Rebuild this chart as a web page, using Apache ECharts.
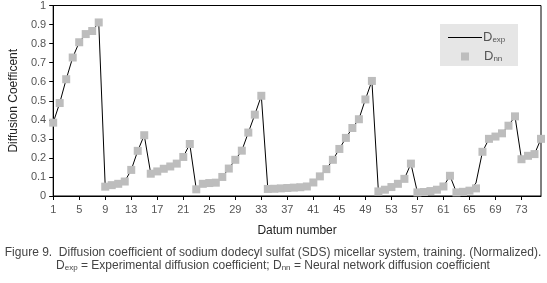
<!DOCTYPE html>
<html>
<head>
<meta charset="utf-8">
<script src="https://cdn.jsdelivr.net/npm/echarts@6/dist/echarts.min.js"></script>
<style>
  html, body { margin: 0; padding: 0; background: #fff; }
  #chart { width: 547px; height: 283px; }
</style>
</head>
<body>
<div id="chart"></div>
<script>
// datum numbers 1..76
const datums = [];
for (let i = 1; i <= 76; i++) datums.push(String(i));

// neural network output (grey squares)
const dnnValues = [
  0.385, 0.488, 0.613, 0.727, 0.807, 0.850, 0.866, 0.911, 0.049, 0.057,
  0.064, 0.076, 0.137, 0.237, 0.319, 0.117, 0.129, 0.143, 0.155, 0.170,
  0.205, 0.273, 0.035, 0.064, 0.068, 0.070, 0.100, 0.144, 0.190, 0.238,
  0.333, 0.427, 0.526, 0.037, 0.038, 0.040, 0.042, 0.044, 0.046, 0.050,
  0.071, 0.103, 0.141, 0.190, 0.247, 0.305, 0.357, 0.403, 0.507, 0.604,
  0.024, 0.033, 0.047, 0.064, 0.090, 0.170, 0.019, 0.021, 0.026, 0.033,
  0.050, 0.106, 0.019, 0.022, 0.028, 0.040, 0.232, 0.300, 0.312, 0.329,
  0.369, 0.418, 0.193, 0.211, 0.220, 0.300
];

// experimental values (black line)
const dexpValues = [
  0.385, 0.488, 0.613, 0.727, 0.807, 0.850, 0.866, 0.911, 0.049, 0.057,
  0.064, 0.076, 0.137, 0.237, 0.319, 0.117, 0.129, 0.143, 0.155, 0.170,
  0.205, 0.273, 0.035, 0.064, 0.068, 0.070, 0.100, 0.144, 0.190, 0.238,
  0.333, 0.427, 0.526, 0.037, 0.038, 0.040, 0.042, 0.044, 0.046, 0.050,
  0.071, 0.103, 0.141, 0.190, 0.247, 0.305, 0.357, 0.403, 0.507, 0.604,
  0.024, 0.033, 0.047, 0.064, 0.090, 0.170, 0.019, 0.021, 0.026, 0.033,
  0.050, 0.106, 0.019, 0.022, 0.028, 0.068, 0.232, 0.300, 0.312, 0.329,
  0.369, 0.418, 0.193, 0.211, 0.220, 0.300
];

const font = 'Liberation Sans, Arial, sans-serif';
const sub = {
  d: { fontSize: 13, fontFamily: font, color: '#555' },
  s: { fontSize: 8, fontFamily: font, color: '#555', padding: [5, 0, 0, 0] }
};

const myChart = echarts.init(document.getElementById('chart'));
myChart.setOption({
  animation: false,
  grid: {
    left: 49,
    right: 6,
    top: 5,
    bottom: 87,
    show: true,
    borderColor: '#000',
    borderWidth: 1
  },
  legend: [
    {
      data: [{ name: 'Dexp', icon: 'rect' }],
      left: 448,
      top: 31,
      itemWidth: 34,
      itemHeight: 1,
      padding: 0,
      z: 10,
      itemStyle: { color: '#000' },
      formatter: () => '{d|D}{s|exp}',
      textStyle: { rich: sub, padding: [0, 0, 0, -4] }
    },
    {
      data: [{ name: 'Dnn', icon: 'rect' }],
      left: 461,
      top: 50,
      itemWidth: 8,
      itemHeight: 8,
      padding: 0,
      z: 10,
      formatter: () => '{d|D}{s|nn}',
      textStyle: { rich: sub, padding: [0, 0, 0, 10] }
    }
  ],
  graphic: [
    {
      type: 'rect',
      z: 1,
      shape: { x: 440, y: 24, width: 78, height: 42 },
      style: { fill: '#e6e6e6' }
    },
    {
      type: 'text',
      x: 273,
      y: 253,
      style: {
        text: 'Figure 9.  Diffusion coefficient of sodium dodecyl sulfat (SDS) micellar system, training. (Normalized).',
        font: '12px ' + font,
        fill: '#444',
        align: 'center',
        verticalAlign: 'middle'
      }
    },
    {
      type: 'text',
      x: 273,
      y: 266,
      style: {
        text: '{a|D}{b|exp}{a| = Experimental diffusion coefficient; D}{b|nn}{a| = Neural network diffusion coefficient}',
        align: 'center',
        verticalAlign: 'middle',
        rich: {
          a: { fontSize: 12, fontFamily: font, fill: '#444' },
          b: { fontSize: 8, fontFamily: font, fill: '#444', padding: [4, 0, 0, 0] }
        }
      }
    }
  ],
  xAxis: {
    type: 'category',
    data: datums,
    boundaryGap: false,
    name: 'Datum number',
    nameLocation: 'middle',
    nameGap: 29,
    nameTextStyle: { fontSize: 12, fontFamily: font, color: '#222' },
    axisLine: { lineStyle: { color: '#000', width: 1 } },
    axisTick: { interval: 3, length: 4, lineStyle: { color: '#000' } },
    axisLabel: { interval: 3, fontSize: 11, fontFamily: font, color: '#555', margin: 8 }
  },
  yAxis: {
    type: 'value',
    min: 0,
    max: 1,
    interval: 0.1,
    name: 'Diffusion Coefficent',
    nameLocation: 'middle',
    nameGap: 31,
    nameTextStyle: { fontSize: 12, fontFamily: font, color: '#222' },
    axisLine: { show: true, lineStyle: { color: '#000', width: 1 } },
    axisTick: { show: true, length: 4, lineStyle: { color: '#000' } },
    splitLine: { show: false },
    axisLabel: {
      fontSize: 11,
      fontFamily: font,
      color: '#555',
      margin: 7,
      formatter: (v) => String(Math.round(v * 10) / 10)
    }
  },
  series: [
    {
      name: 'Dexp',
      type: 'line',
      data: dexpValues,
      showSymbol: false,
      symbol: 'none',
      z: 2,
      lineStyle: { color: '#000', width: 1 },
      itemStyle: { color: '#000' }
    },
    {
      name: 'Dnn',
      type: 'scatter',
      data: dnnValues,
      symbol: 'rect',
      symbolSize: 8,
      z: 3,
      itemStyle: { color: '#bdbdbd', opacity: 1 }
    }
  ]
});

window.addEventListener('resize', () => { myChart.resize(); });
</script>
</body>
</html>
